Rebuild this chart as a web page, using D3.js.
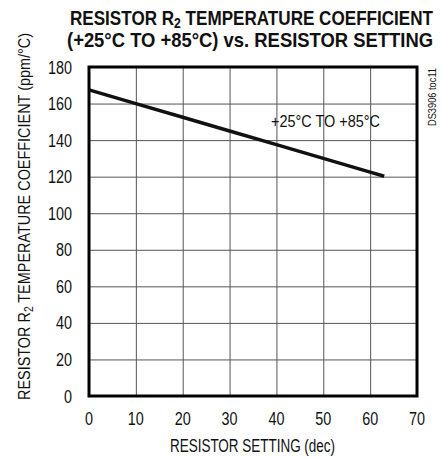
<!DOCTYPE html>
<html>
<head>
<meta charset="utf-8">
<script src="https://cdn.jsdelivr.net/npm/d3@7"></script>
<style>
  body { margin: 0; background: #fff; }
  svg text { font-family: "Liberation Sans", "DejaVu Sans", sans-serif; font-stretch: condensed; fill: #111; }
</style>
</head>
<body>
<svg id="canvas" width="442" height="458"></svg>
<script>
// resistor setting (dec) vs tempco (ppm/°C)
let settings = [0, 10, 20, 30, 40, 50, 60, 63];
let tempco = [167.5, 160, 152.5, 145, 137.5, 130, 122.5, 120.2];
let xTicks = [0, 10, 20, 30, 40, 50, 60, 70];
let yTicks = [0, 20, 40, 60, 80, 100, 120, 140, 160, 180];

let canvas = d3.select("#canvas");

let plotLeft = 89, plotRight = 417, plotTop = 67, plotBottom = 396;

let x = d3.scaleLinear().domain([0, 70]).range([plotLeft, plotRight]);
let y = d3.scaleLinear().domain([0, 180]).range([plotBottom, plotTop]);

// squeeze text to a narrow look
function squeeze(sel, w) {
  sel.attr("textLength", w).attr("lengthAdjust", "spacingAndGlyphs");
}

// gridlines
canvas.append("g")
  .attr("transform", "translate(0," + plotBottom + ")")
  .call(d3.axisBottom(x).tickValues(xTicks).tickSize(-(plotBottom - plotTop)).tickFormat(""))
  .call(g => g.select(".domain").remove())
  .selectAll("line").attr("stroke", "#555").attr("stroke-width", 1);

canvas.append("g")
  .attr("transform", "translate(" + plotLeft + ",0)")
  .call(d3.axisLeft(y).tickValues(yTicks).tickSize(-(plotRight - plotLeft)).tickFormat(""))
  .call(g => g.select(".domain").remove())
  .selectAll("line").attr("stroke", "#555").attr("stroke-width", 1);

// tick labels
canvas.selectAll(".xlab")
  .data(xTicks)
  .enter()
  .append("text")
  .attr("x", d => x(d))
  .attr("y", 425)
  .attr("text-anchor", "middle")
  .attr("font-size", 18)
  .attr("textLength", d => String(d).length * 8)
  .attr("lengthAdjust", "spacingAndGlyphs")
  .text(d => d);

canvas.selectAll(".ylab")
  .data(yTicks)
  .enter()
  .append("text")
  .attr("x", 72)
  .attr("y", d => y(d) + 6.5)
  .attr("text-anchor", "end")
  .attr("font-size", 18)
  .attr("textLength", d => String(d).length * 8)
  .attr("lengthAdjust", "spacingAndGlyphs")
  .text(d => d);

// frame
canvas.append("rect")
  .attr("x", plotLeft)
  .attr("y", plotTop)
  .attr("width", plotRight - plotLeft)
  .attr("height", plotBottom - plotTop)
  .attr("fill", "none")
  .attr("stroke", "#000")
  .attr("stroke-width", 3);

// data line
let line = d3.line().x((d, i) => x(settings[i])).y(d => y(d));
canvas.append("path")
  .attr("d", line(tempco))
  .attr("fill", "none")
  .attr("stroke", "#111")
  .attr("stroke-width", 3.5);

// annotation
canvas.append("text")
  .attr("x", 271)
  .attr("y", 127)
  .attr("font-size", 17)
  .call(squeeze, 109)
  .text("+25°C TO +85°C");

canvas.append("text")
  .attr("transform", "translate(436,126) rotate(-90)")
  .attr("font-size", 11)
  .call(squeeze, 58)
  .text("DS3906 toc11");

// title
let t1 = canvas.append("text").attr("x", 70).attr("y", 25)
  .attr("font-weight", "bold").attr("font-size", 21)
  .call(squeeze, 363);
t1.append("tspan").text("RESISTOR R");
t1.append("tspan").attr("font-size", 15).attr("dy", 3).text("2");
t1.append("tspan").attr("dy", -3).text(" TEMPERATURE COEFFICIENT");
canvas.append("text").attr("x", 67).attr("y", 47)
  .attr("font-weight", "bold").attr("font-size", 21)
  .call(squeeze, 366)
  .text("(+25°C TO +85°C) vs. RESISTOR SETTING");

// axis titles
canvas.append("text")
  .attr("x", 170)
  .attr("y", 452)
  .attr("font-size", 18)
  .call(squeeze, 165)
  .text("RESISTOR SETTING (dec)");

let yt = canvas.append("text")
  .attr("transform", "translate(30,400) rotate(-90)")
  .attr("font-size", 17)
  .call(squeeze, 367);
yt.append("tspan").text("RESISTOR R");
yt.append("tspan").attr("font-size", 12).attr("dy", 3).text("2");
yt.append("tspan").attr("dy", -3).text(" TEMPERATURE COEFFICIENT (ppm/°C)");
</script>
</body>
</html>
